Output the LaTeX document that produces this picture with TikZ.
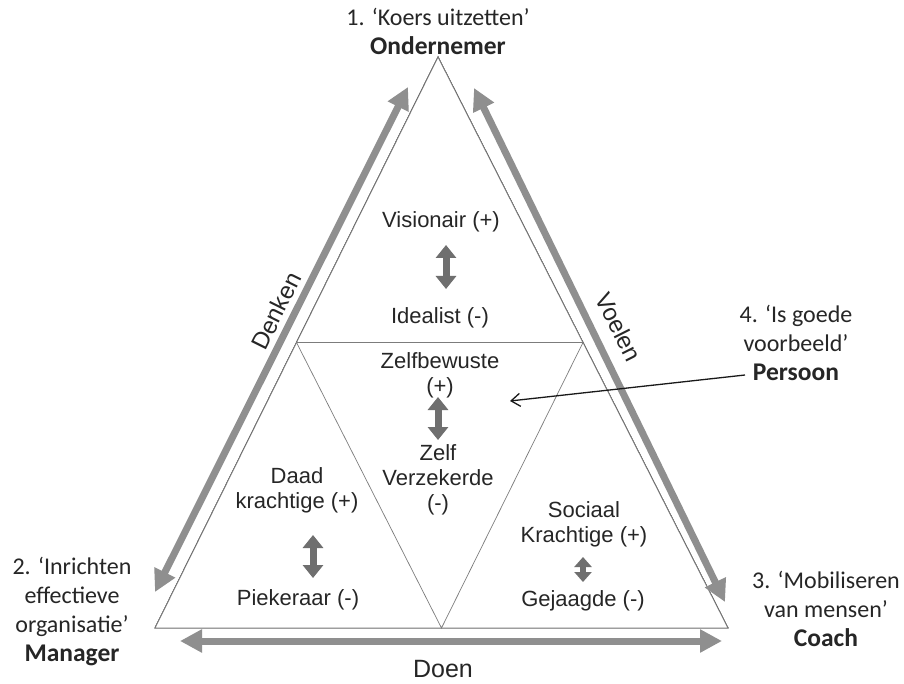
\documentclass[tikz,border=0pt]{standalone}
\usepackage{fontspec}
\setmainfont{Liberation Sans}
\newfontfamily\calib{Carlito}
\usetikzlibrary{arrows.meta}
\definecolor{txt}{HTML}{262626}
\definecolor{rim}{HTML}{7C7C7C}
\definecolor{shade}{HTML}{A8A8A8}
\definecolor{bandc}{HTML}{8F8F8F}
\definecolor{dblc}{HTML}{6F6F6F}
\newcommand{\rolename}[1]{\textbf{\fontsize{25.5}{29}\selectfont #1}}
\begin{document}
\begin{tikzpicture}[x=1pt,y=-1pt,
  every node/.style={text=txt, inner sep=0pt, align=center},
  role/.style={font=\calib\fontsize{24}{29}\selectfont},
  trait/.style={font=\fontsize{22}{25}\selectfont},
  axislabel/.style={font=\fontsize{24}{28}\selectfont},
  rimline/.style={draw=rim, line width=0.9pt, line join=miter},
  bandarrow/.style={draw=bandc, line width=7pt,
    {Triangle[length=22pt,width=22pt]}-{Triangle[length=22pt,width=22pt]}},
  swapper/.style={draw=dblc, line width=7pt,
    {Triangle[length=13pt,width=20pt]}-{Triangle[length=13pt,width=20pt]}},
  smallswapper/.style={draw=dblc, line width=6pt,
    {Triangle[length=10pt,width=17pt]}-{Triangle[length=10pt,width=17pt]}},
  pointer/.style={draw=black!90, line width=1.3pt,
    -{Straight Barb[length=9pt,width=13pt]}},
]
\useasboundingbox (0,0) rectangle (904,684);
\fill[white] (0,0) rectangle (904,684);

% outer triangle and its medial triangle
\coordinate (A) at (438,57);
\coordinate (B) at (155,628);
\coordinate (C) at (728,628);
\coordinate (AB) at (296.5,342.5);
\coordinate (AC) at (583,342.5);
\coordinate (BC) at (441.5,628);

% light drop shadow behind the triangle
\draw[shade, line width=0.9pt, shift={(3,3.5)}] (A) -- (B) -- (C) -- cycle;
\fill[white] (A) -- (B) -- (C) -- cycle;
\draw[rimline] (A) -- (B) -- (C) -- cycle;
\draw[rimline, line width=0.7pt] (AB) -- (AC) -- (BC) -- cycle;

% axis arrows along the sides
\coordinate (dTop) at (408,87);
\coordinate (dBot) at (155,592);
\coordinate (vTop) at (474,88);
\coordinate (vBot) at (725,602);
\coordinate (oL) at (180,641);
\coordinate (oR) at (722,641);
\draw[bandarrow] (dBot) -- (dTop);
\draw[bandarrow] (vTop) -- (vBot);
\draw[bandarrow] (oL) -- (oR);

\node[axislabel, rotate=63.6] (denken) at (276,311) {Denken};
\node[axislabel, rotate=-63.2] (voelen) at (619,327) {Voelen};
\node[axislabel, font=\fontsize{25}{28}\selectfont] (doen) at (443,669) {Doen};

% role labels at the corners
\node[role] (r1) at (438,31) {1. ‘Koers uitzetten’\\\rolename{Ondernemer}};
\node[role] (r2) at (72,612) {2. ‘Inrichten\\effectieve\\organisatie’\\\rolename{Manager}};
\node[role] (r3) at (826,609) {3. ‘Mobiliseren\\van mensen’\\\rolename{Coach}};
\node[role] (r4) at (796,343) {4. ‘Is goede\\voorbeeld’\\\rolename{Persoon}};

% top segment
\node[trait] (vis) at (441,222) {Visionair (+)};
\node[trait] (ide) at (440,318) {Idealist (-)};
\coordinate (s1a) at (446,245);
\coordinate (s1b) at (446,289);
\draw[swapper] (s1a) -- (s1b);

% centre segment
\node[trait] (zb) at (440,375) {Zelfbewuste\\(+)};
\node[trait] (zv) at (438,480) {Zelf\\Verzekerde\\(-)};
\coordinate (s2a) at (438,397);
\coordinate (s2b) at (438,440);
\draw[swapper] (s2a) -- (s2b);

% left segment
\node[trait] (daad) at (297,490) {Daad\\krachtige (+)};
\node[trait] (piek) at (298,600) {Piekeraar (-)};
\coordinate (s3a) at (313,535);
\coordinate (s3b) at (313,578);
\draw[swapper] (s3a) -- (s3b);

% right segment
\node[trait] (soc) at (584,524) {Sociaal\\Krachtige (+)};
\node[trait] (gej) at (583,601) {Gejaagde (-)};
\coordinate (s4a) at (583,557);
\coordinate (s4b) at (583,582);
\draw[smallswapper] (s4a) -- (s4b);

% pointer from label 4 into the centre
\coordinate (p4) at (745,375);
\coordinate (p4end) at (510,401);
\draw[pointer] (p4) -- (p4end);
\end{tikzpicture}
\end{document}
